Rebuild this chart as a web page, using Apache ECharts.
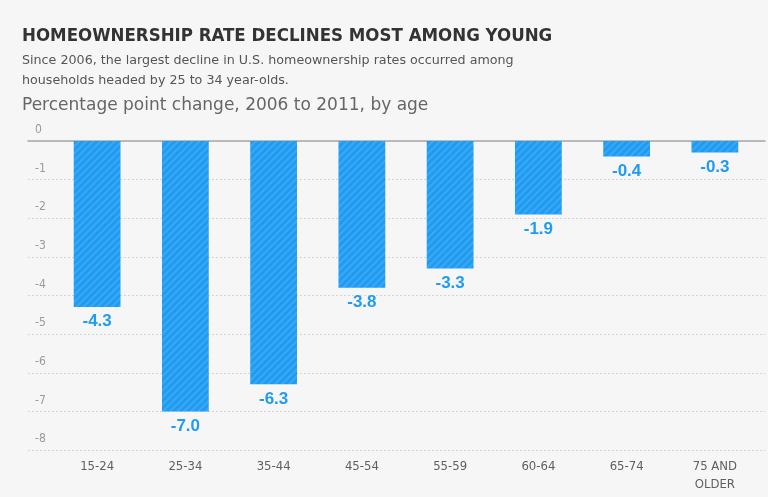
<!DOCTYPE html>
<html><head><meta charset="utf-8">
<script src="https://cdn.jsdelivr.net/npm/echarts@6/dist/echarts.min.js"></script>
<style>html,body{margin:0;padding:0;background:#f6f6f6}#c{width:768px;height:497px}</style>
</head><body><div id="c"></div>
<script>
const categories = ['15-24','25-34','35-44','45-54','55-59','60-64','65-74','75 AND\nOLDER'];
const values = [-4.3, -7.0, -6.3, -3.8, -3.3, -1.9, -0.4, -0.3];
const yMin = -8, yMax = 0, yStep = 1;
const titleText = 'HOMEOWNERSHIP RATE DECLINES MOST AMONG YOUNG';
const subLines = ['Since 2006, the largest decline in U.S. homeownership rates occurred among','households headed by 25 to 34 year-olds.'];
const unitText = 'Percentage point change, 2006 to 2011, by age';

const chart = echarts.init(document.getElementById('c'), null, {renderer:'canvas'});
const blue = '#1f9cf2';
chart.setOption({
  backgroundColor:'#f6f6f6',
  animation:false,
  graphic:[
    {type:'text', left:22, top:27, style:{text:titleText, font:'bold 18.5px "DejaVu Sans Condensed", sans-serif', fill:'#333'}},
    {type:'text', left:22, top:51, style:{text:subLines.join('\n'), font:'12.7px "DejaVu Sans", sans-serif', fill:'#555', lineHeight:20}},
    {type:'text', left:22, top:97, style:{text:unitText, font:'17px "DejaVu Sans", sans-serif', fill:'#666'}}
  ],
  grid:[
    {left:28, right:3, top:141, bottom:47},
    {left:53, width:706, top:141, bottom:47}
  ],
  xAxis:[
    {gridIndex:0, type:'value', min:0, max:1, position:'top', axisLine:{show:true, lineStyle:{color:'#a8a8a8', width:1.5}}, axisTick:{show:false}, axisLabel:{show:false}, splitLine:{show:false}},
    {gridIndex:1, type:'category', data:categories, axisLine:{show:false}, axisTick:{show:false},
     axisLabel:{color:'#5f5f5f', fontFamily:'"DejaVu Sans Condensed", sans-serif', fontSize:13, lineHeight:18, margin:8, interval:0}}
  ],
  yAxis:[
    {gridIndex:0, type:'value', min:yMin, max:yMax, interval:yStep, axisLine:{show:false}, axisTick:{show:false},
     axisLabel:{inside:true, margin:7, align:'left', verticalAlign:'bottom', padding:[0,0,5,0], color:'#9a9a9a', fontSize:12, fontFamily:'"DejaVu Sans Condensed", sans-serif'},
     splitLine:{show:true, lineStyle:{color:'#d4d4d4', type:[2,2], width:1}}},
    {gridIndex:1, type:'value', min:yMin, max:yMax, interval:yStep, show:false, splitLine:{show:false}}
  ],
  series:[{
    type:'bar', xAxisIndex:1, yAxisIndex:1, data:values, barWidth:'53%',
    itemStyle:{color:blue, decal:{symbol:'rect', symbolSize:1, color:'rgba(255,255,255,0.12)', dashArrayX:[1,0], dashArrayY:[2,3], rotation:-Math.PI/4}},
    label:{show:true, position:'bottom', distance:6, color:blue, fontWeight:'bold', fontSize:17, fontFamily:'"Liberation Sans", Arial, sans-serif',
      formatter:p=>p.value.toFixed(1)}
  }]
});
</script></body></html>
